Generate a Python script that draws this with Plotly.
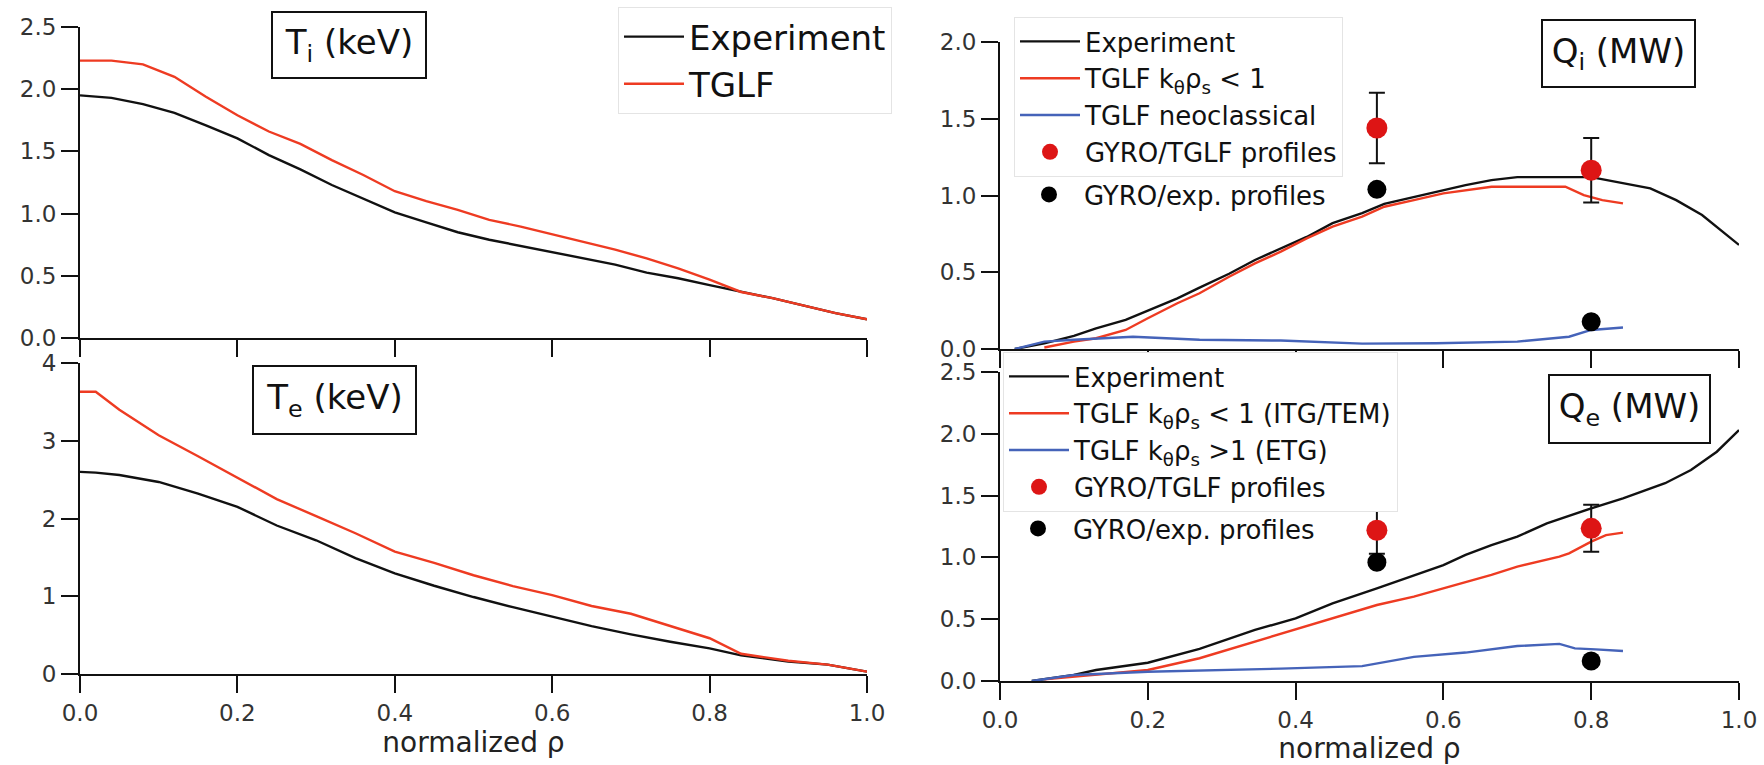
import plotly.graph_objects as go

W, H = 1764, 765

# ---------------- data ----------------
# Ion temperature (keV)
rho_ti = [0.00, 0.04, 0.08, 0.12, 0.16, 0.20, 0.24, 0.28, 0.32, 0.36, 0.40, 0.44, 0.48,
          0.52, 0.56, 0.60, 0.64, 0.68, 0.72, 0.76, 0.80, 0.84, 0.88, 0.92, 0.96, 1.00]
ti_exp = [1.95, 1.93, 1.88, 1.81, 1.71, 1.605, 1.47, 1.355, 1.23, 1.12, 1.01, 0.93, 0.85,
          0.79, 0.74, 0.695, 0.645, 0.59, 0.525, 0.48, 0.425, 0.375, 0.32, 0.26, 0.20, 0.15]
ti_tglf = [2.23, 2.23, 2.20, 2.10, 1.94, 1.79, 1.66, 1.56, 1.43, 1.31, 1.18, 1.10, 1.03,
           0.95, 0.895, 0.835, 0.77, 0.71, 0.64, 0.56, 0.47, 0.37, 0.32, 0.26, 0.20, 0.15]

# Electron temperature (keV)
rho_te = [0.00, 0.02, 0.05, 0.10, 0.15, 0.20, 0.25, 0.30, 0.35, 0.40, 0.45, 0.50, 0.55,
          0.60, 0.65, 0.70, 0.75, 0.80, 0.84, 0.90, 0.95, 1.00]
te_exp = [2.60, 2.59, 2.56, 2.47, 2.32, 2.15, 1.91, 1.72, 1.49, 1.295, 1.135, 0.99, 0.86,
          0.737, 0.615, 0.51, 0.415, 0.33, 0.24, 0.16, 0.12, 0.03]
te_tglf = [3.63, 3.63, 3.40, 3.07, 2.80, 2.52, 2.25, 2.03, 1.81, 1.575, 1.43, 1.27, 1.13,
           1.015, 0.875, 0.775, 0.62, 0.46, 0.26, 0.17, 0.12, 0.03]

# Ion heat flux (MW)
rho_qi_exp = [0.02, 0.06, 0.10, 0.13, 0.17, 0.20, 0.24, 0.27, 0.31, 0.345, 0.38, 0.415, 0.45,
              0.49, 0.52, 0.56, 0.60, 0.63, 0.665, 0.70, 0.80, 0.835, 0.88, 0.915, 0.95, 1.00]
qi_exp = [0.0, 0.037, 0.085, 0.135, 0.19, 0.25, 0.33, 0.40, 0.49, 0.58, 0.655, 0.73, 0.82,
          0.885, 0.945, 0.99, 1.035, 1.068, 1.10, 1.12, 1.12, 1.09, 1.047, 0.97, 0.873, 0.678]
rho_qi_tglf = [0.06, 0.10, 0.13, 0.17, 0.20, 0.24, 0.27, 0.31, 0.345, 0.38, 0.415, 0.45, 0.49,
               0.52, 0.56, 0.60, 0.665, 0.765, 0.79, 0.815, 0.843]
qi_tglf = [0.01, 0.048, 0.07, 0.124, 0.20, 0.298, 0.363, 0.471, 0.558, 0.634, 0.721, 0.797,
           0.862, 0.927, 0.97, 1.014, 1.057, 1.057, 1.003, 0.97, 0.949]
rho_qi_neo = [0.02, 0.06, 0.10, 0.18, 0.27, 0.38, 0.49, 0.59, 0.70, 0.77, 0.80, 0.843]
qi_neo = [0.0, 0.048, 0.06, 0.08, 0.06, 0.055, 0.035, 0.037, 0.048, 0.08, 0.124, 0.14]
rho_gyro = [0.51, 0.80]
qi_gyro_tglf = [1.44, 1.165]
qi_gyro_tglf_err = [0.23, 0.21]
qi_gyro_exp = [1.04, 0.178]

# Electron heat flux (MW)
rho_qe_exp = [0.043, 0.10, 0.13, 0.20, 0.27, 0.345, 0.40, 0.45, 0.51, 0.56, 0.60, 0.63, 0.665,
              0.70, 0.74, 0.80, 0.843, 0.90, 0.935, 0.97, 1.00]
qe_exp = [0.0, 0.05, 0.089, 0.148, 0.26, 0.413, 0.507, 0.628, 0.75, 0.858, 0.938, 1.02, 1.10,
          1.168, 1.276, 1.397, 1.478, 1.60, 1.707, 1.855, 2.03]
rho_qe_tglf = [0.06, 0.13, 0.20, 0.27, 0.345, 0.415, 0.49, 0.51, 0.56, 0.60, 0.665, 0.70,
               0.757, 0.77, 0.80, 0.82, 0.843]
qe_tglf = [0.013, 0.049, 0.089, 0.184, 0.318, 0.439, 0.574, 0.615, 0.682, 0.75, 0.858, 0.925,
           1.006, 1.033, 1.127, 1.18, 1.20]
rho_qe_etg = [0.043, 0.10, 0.20, 0.31, 0.38, 0.49, 0.56, 0.63, 0.665, 0.70, 0.757, 0.778,
              0.806, 0.843]
qe_etg = [0.0, 0.049, 0.075, 0.089, 0.10, 0.12, 0.195, 0.23, 0.256, 0.283, 0.30, 0.264,
          0.256, 0.243]
qe_gyro_tglf = [1.22, 1.235]
qe_gyro_tglf_err = [0.19, 0.19]
qe_gyro_exp = [0.96, 0.162]

x_ticks = [0.0, 0.2, 0.4, 0.6, 0.8, 1.0]

# ---------------- styles ----------------
BLACK = "#111111"
RED = "#ee3b22"
BLUE = "#4563b9"
MRED = "#dd1515"
FONT = "DejaVu Sans"


def px(x):
    return x / W


def py(y):
    return 1 - y / H


fig = go.Figure()


def line(x, y, color, name, xa, ya, legend, show=True):
    fig.add_trace(go.Scatter(x=x, y=y, mode="lines", name=name,
                             line=dict(color=color, width=2.4),
                             xaxis=xa, yaxis=ya, legend=legend, showlegend=show))


# Ti panel
line(rho_ti, ti_exp, BLACK, "Experiment", "x", "y", "legend")
line(rho_ti, ti_tglf, RED, "TGLF", "x", "y", "legend")
# Te panel
line(rho_te, te_exp, BLACK, "Experiment", "x2", "y2", "legend", False)
line(rho_te, te_tglf, RED, "TGLF", "x2", "y2", "legend", False)

# Qi panel
line(rho_qi_exp, qi_exp, BLACK, "Experiment", "x3", "y3", "legend2")
line(rho_qi_tglf, qi_tglf, RED, "TGLF k<sub>θ</sub>ρ<sub>s</sub> &lt; 1", "x3", "y3", "legend2")
line(rho_qi_neo, qi_neo, BLUE, "TGLF neoclassical", "x3", "y3", "legend2")
fig.add_trace(go.Scatter(x=rho_gyro, y=qi_gyro_tglf, mode="markers", name="GYRO/TGLF profiles",
                         marker=dict(color=MRED, size=21),
                         error_y=dict(type="data", array=qi_gyro_tglf_err, color=BLACK,
                                      thickness=2, width=8),
                         xaxis="x3", yaxis="y3", legend="legend2", cliponaxis=False))
fig.add_trace(go.Scatter(x=rho_gyro, y=qi_gyro_exp, mode="markers", name="GYRO/exp. profiles",
                         marker=dict(color="#000000", size=19),
                         xaxis="x3", yaxis="y3", legend="legend3", cliponaxis=False))

# Qe panel
line(rho_qe_exp, qe_exp, BLACK, "Experiment", "x4", "y4", "legend4")
line(rho_qe_tglf, qe_tglf, RED, "TGLF k<sub>θ</sub>ρ<sub>s</sub> &lt; 1 (ITG/TEM)", "x4", "y4", "legend4")
line(rho_qe_etg, qe_etg, BLUE, "TGLF k<sub>θ</sub>ρ<sub>s</sub> &gt;1 (ETG)", "x4", "y4", "legend4")
fig.add_trace(go.Scatter(x=rho_gyro, y=qe_gyro_tglf, mode="markers", name="GYRO/TGLF profiles",
                         marker=dict(color=MRED, size=21),
                         error_y=dict(type="data", array=qe_gyro_tglf_err, color=BLACK,
                                      thickness=2, width=8),
                         xaxis="x4", yaxis="y4", legend="legend4", cliponaxis=False))
fig.add_trace(go.Scatter(x=rho_gyro, y=qe_gyro_exp, mode="markers", name="GYRO/exp. profiles",
                         marker=dict(color="#000000", size=19),
                         xaxis="x4", yaxis="y4", legend="legend5", cliponaxis=False))

# ---------------- axes ----------------
common = dict(showline=True, linecolor=BLACK, linewidth=2, ticks="outside", ticklen=17,
              tickwidth=2, tickcolor=BLACK, showgrid=False, zeroline=False, mirror=False,
              automargin=False, tickfont=dict(family=FONT, size=23, color="#333333"))

xl = [px(80), px(867)]
xr = [px(1000), px(1739)]
xtitle = dict(text="normalized ρ", font=dict(family=FONT, size=28, color="#222222"), standoff=2)

fig.update_layout(
    xaxis=dict(domain=xl, range=[0, 1], tickvals=x_ticks, showticklabels=False, anchor="y", **common),
    yaxis=dict(domain=[py(338), py(27)], range=[0, 2.5], tickvals=[0, 0.5, 1, 1.5, 2, 2.5],
               tickformat=".1f", anchor="x", **common),
    xaxis2=dict(domain=xl, range=[0, 1], tickvals=x_ticks, tickformat=".1f", anchor="y2",
                title=xtitle, **common),
    yaxis2=dict(domain=[py(674), py(363)], range=[0, 4], tickvals=[0, 1, 2, 3, 4],
                anchor="x2", **common),
    xaxis3=dict(domain=xr, range=[0, 1], tickvals=x_ticks, showticklabels=False, anchor="y3", **common),
    yaxis3=dict(domain=[py(349), py(42)], range=[0, 2], tickvals=[0, 0.5, 1, 1.5, 2],
                tickformat=".1f", anchor="x3", **common),
    xaxis4=dict(domain=xr, range=[0, 1], tickvals=x_ticks, tickformat=".1f", anchor="y4",
                title=xtitle, **common),
    yaxis4=dict(domain=[py(681), py(372)], range=[0, 2.5], tickvals=[0, 0.5, 1, 1.5, 2, 2.5],
                tickformat=".1f", anchor="x4", **common),
)

# ---------------- legends ----------------
box = dict(bgcolor="white", bordercolor="#e4e4e4", borderwidth=1, xanchor="left", yanchor="top",
           tracegroupgap=0, itemwidth=60, itemsizing="trace")
nobox = dict(bgcolor="rgba(0,0,0,0)", borderwidth=0, xanchor="left", yanchor="top",
             itemwidth=60, itemsizing="trace")
fig.update_layout(
    legend=dict(x=px(618), y=py(7), font=dict(family=FONT, size=34, color=BLACK), **box),
    legend2=dict(x=px(1014), y=py(17), font=dict(family=FONT, size=26, color=BLACK), **box),
    legend3=dict(x=px(1014), y=py(171), font=dict(family=FONT, size=26, color=BLACK), **nobox),
    legend4=dict(x=px(1003), y=py(352), font=dict(family=FONT, size=26, color=BLACK), **box),
    legend5=dict(x=px(1003), y=py(505), font=dict(family=FONT, size=26, color=BLACK), **nobox),
)

# ---------------- panel labels ----------------
def label(text, x0, y0, x1, y1):
    fig.add_annotation(text=text, xref="paper", yref="paper",
                       x=px((x0 + x1) / 2), y=py((y0 + y1) / 2), xanchor="center", yanchor="middle",
                       showarrow=False, width=x1 - x0 - 4, height=y1 - y0 - 4, borderpad=0,
                       bordercolor=BLACK, borderwidth=2, bgcolor="white", align="center",
                       valign="middle", font=dict(family=FONT, size=34, color=BLACK))


label("T<sub>i</sub> (keV)", 271, 11, 427, 79)
label("T<sub>e</sub> (keV)", 252, 365, 417, 435)
label("Q<sub>i</sub> (MW)", 1541, 19, 1696, 88)
label("Q<sub>e</sub> (MW)", 1548, 374, 1711, 444)

fig.update_layout(width=W, height=H, margin=dict(l=0, r=0, t=0, b=0),
                  paper_bgcolor="white", plot_bgcolor="white", template="none")

fig.write_html("out.html", config={"displayModeBar": False},
               post_script="document.body.style.margin='0';document.body.style.overflow='hidden';")
